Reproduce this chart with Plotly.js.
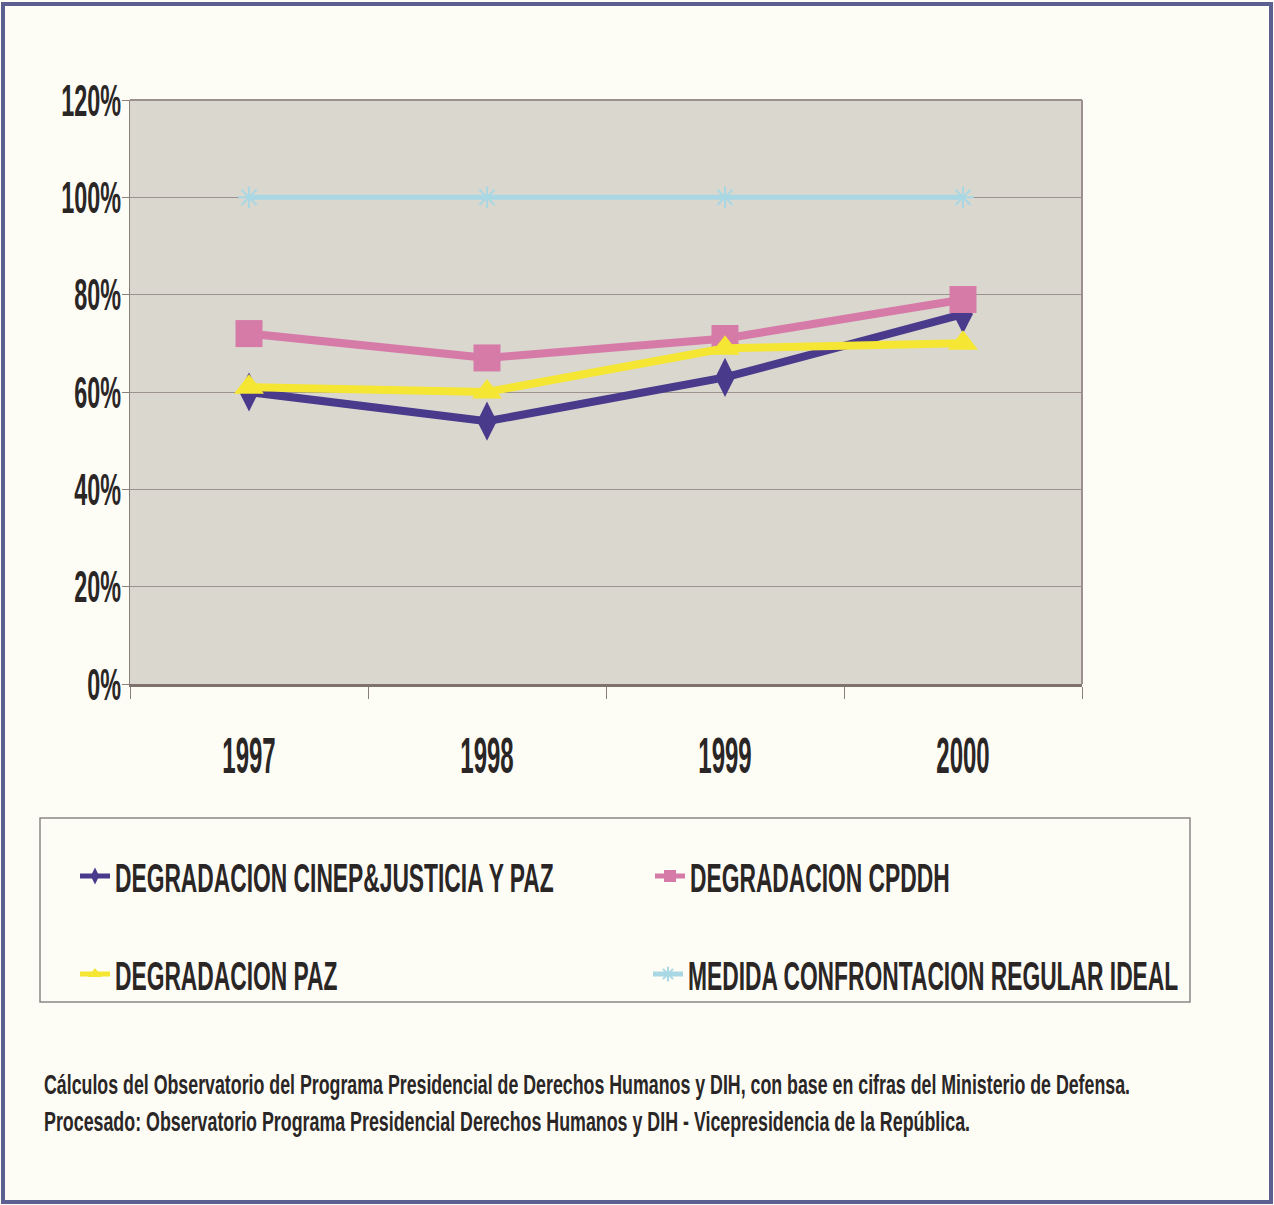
<!DOCTYPE html>
<html>
<head>
<meta charset="utf-8">
<script src="https://cdn.plot.ly/plotly-3.0.1.min.js"></script>
<style>
  html, body { margin: 0; padding: 0; background: #fdfdf6; }
  #chart { width: 1274px; height: 1205px; }
</style>
</head>
<body>
<div id="chart"></div>
<script>
// ---- data ----
const years = ['1997', '1998', '1999', '2000'];
const cinepJusticiaPaz = [60, 54, 63, 76];
const cpddh = [72, 67, 71, 79];
const paz = [61, 60, 69, 70];
const confrontacionIdeal = [100, 100, 100, 100];
const yTicks = [0, 20, 40, 60, 80, 100, 120];
const seriesNames = [
  'DEGRADACION CINEP&JUSTICIA Y PAZ',
  'DEGRADACION CPDDH',
  'DEGRADACION PAZ',
  'MEDIDA CONFRONTACION REGULAR IDEAL'
];
const sourceLines = [
  'Cálculos del Observatorio del Programa Presidencial de Derechos Humanos y DIH, con base en cifras del Ministerio de Defensa.',
  'Procesado: Observatorio Programa Presidencial Derechos Humanos y DIH - Vicepresidencia de la República.'
];

const FONT = '"Liberation Sans", Arial, sans-serif';
const TXT = '#2b2626';

const traces = [
  {
    x: years, y: cinepJusticiaPaz, name: seriesNames[0], type: 'scatter', mode: 'lines+markers',
    line: { color: '#4a3a8c', width: 8 },
    marker: { symbol: 'diamond-tall', size: 28, color: '#4a3a8c' },
    legend: 'legend'
  },
  {
    x: years, y: cpddh, name: seriesNames[1], type: 'scatter', mode: 'lines+markers',
    line: { color: '#d67aa8', width: 8 },
    marker: { symbol: 'square', size: 27, color: '#d67aa8' },
    legend: 'legend2'
  },
  {
    x: years, y: paz, name: seriesNames[2], type: 'scatter', mode: 'lines+markers',
    line: { color: '#f4e632', width: 8 },
    marker: { symbol: 'triangle-up', size: 26, color: '#f4e632' },
    legend: 'legend3'
  },
  {
    x: years, y: confrontacionIdeal, name: seriesNames[3], type: 'scatter', mode: 'lines+markers',
    line: { color: '#a9d7e4', width: 5 },
    marker: { symbol: 'asterisk-open', size: 18, color: '#a9d7e4', line: { color: '#a9d7e4', width: 2 } },
    legend: 'legend4'
  }
];

// plot area in pixels: left 130, right 1082, top 100, bottom 684
const L = 130, R = 1082, T = 100, B = 684, W = 1274, H = 1205;
const px = v => (v - L) / (R - L);
const py = v => (B - v) / (B - T);

const legendAt = (xPix, yPix) => ({
  orientation: 'h',
  x: px(xPix), y: py(yPix),
  xanchor: 'left', yanchor: 'middle',
  bgcolor: 'rgba(0,0,0,0)',
  borderwidth: 0,
  itemsizing: 'constant',
  font: { family: FONT, size: 40, color: TXT, weight: 700 }
});

const layout = {
  width: W, height: H,
  margin: { l: L, r: W - R, t: T, b: H - B, autoexpand: false },
  paper_bgcolor: '#fdfdf6',
  plot_bgcolor: '#dad7cf',
  showlegend: true,
  hovermode: false,
  xaxis: {
    type: 'category',
    tickson: 'boundaries',
    tickangle: 0,
    ticks: 'outside', ticklen: 12, tickwidth: 1, tickcolor: '#8a807a',
    showline: true, linecolor: '#7d726c', linewidth: 3, mirror: false,
    showgrid: false,
    ticklabelstandoff: 26,
    tickfont: { family: FONT, size: 50, color: TXT, weight: 700 },
    range: [-0.5, 3.5]
  },
  yaxis: {
    range: [0, 120],
    tickvals: yTicks,
    ticktext: yTicks.map(v => v + '%'),
    ticks: 'outside', ticklen: 7, tickcolor: '#8a807a',
    showline: true, linecolor: '#8a807a', linewidth: 1, mirror: false,
    showgrid: true, gridcolor: '#9c9390', gridwidth: 1,
    zeroline: false,
    ticklabelstandoff: -8,
    tickfont: { family: FONT, size: 45, color: TXT, weight: 700 }
  },
  legend: legendAt(75, 876),
  legend2: legendAt(650, 876),
  legend3: legendAt(75, 974),
  legend4: legendAt(648, 974),
  shapes: [
    // plot top / right border
    { type: 'line', xref: 'paper', yref: 'paper', x0: 0, x1: 1, y0: 1, y1: 1, line: { color: '#9e8f8f', width: 2 } },
    { type: 'line', xref: 'paper', yref: 'paper', x0: 1, x1: 1, y0: 0, y1: 1, line: { color: '#9e8f8f', width: 2 } },
    // legend box
    { type: 'rect', xref: 'paper', yref: 'paper', x0: px(40), x1: px(1190), y0: py(1002), y1: py(818),
      line: { color: '#8c8686', width: 1.5 }, fillcolor: 'rgba(0,0,0,0)', layer: 'below' },
    // outer frame
    { type: 'rect', xref: 'paper', yref: 'paper', x0: px(3), x1: px(1271), y0: py(1202), y1: py(4),
      line: { color: '#5c6090', width: 4 }, fillcolor: 'rgba(0,0,0,0)' }
  ],
  annotations: sourceLines.map((t, i) => ({
    text: t, xref: 'paper', yref: 'paper', x: px(42), y: py(1085 + i * 37),
    xanchor: 'left', yanchor: 'middle', align: 'left', showarrow: false,
    font: { family: FONT, size: 27, color: TXT, weight: 700 }
  }))
};

// The reference uses a very condensed typeface; squeeze glyphs horizontally (text stays real text).
const LEGEND_SQUEEZE = 0.57;
const LEGEND_TEXT_SEL = 'text.legendtext, text.legend2text, text.legend3text, text.legend4text';
function squeezeBy(nodes, f) {
  nodes.forEach(t => {
    if (t.hasAttribute('textLength')) return;
    const w = t.getComputedTextLength();
    if (!w) return;
    t.setAttribute('textLength', (w * f).toFixed(1));
    t.setAttribute('lengthAdjust', 'spacingAndGlyphs');
  });
}
function squeezeAll(gd) {
  squeezeBy(gd.querySelectorAll('.xtick text'), 0.48);
  squeezeBy(gd.querySelectorAll('.ytick text'), 0.52);
  squeezeBy(gd.querySelectorAll(LEGEND_TEXT_SEL), LEGEND_SQUEEZE);
  const targets = [1086, 926];
  gd.querySelectorAll('text.annotation-text').forEach(a => {
    const i = sourceLines.indexOf(a.textContent);
    if (i >= 0 && !a.hasAttribute('textLength')) {
      const w = a.getComputedTextLength();
      if (w) squeezeBy([a], targets[i] / w);
    }
  });
}

const gdEl = document.getElementById('chart');
const observer = new MutationObserver(() => squeezeAll(gdEl));
observer.observe(gdEl, { childList: true, subtree: true, characterData: true });

Plotly.newPlot(gdEl, traces, layout, { staticPlot: true }).then(gd => {
  squeezeAll(gd);
  gd.on('plotly_afterplot', () => squeezeAll(gd));
  requestAnimationFrame(() => squeezeAll(gd));
  setTimeout(() => squeezeAll(gd), 50);
});
</script>
</body>
</html>
